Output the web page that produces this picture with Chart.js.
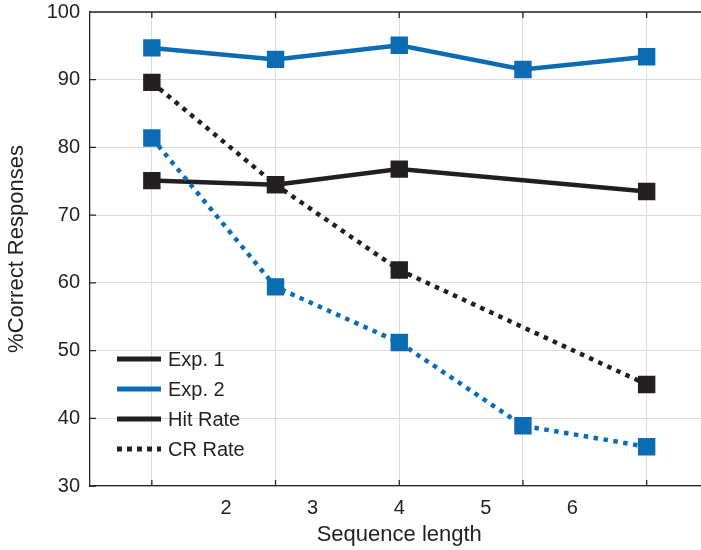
<!DOCTYPE html>
<html>
<head>
<meta charset="utf-8">
<script src="https://cdn.jsdelivr.net/npm/chart.js@4/dist/chart.umd.min.js"></script>
<style>
    html, body { margin: 0; padding: 0; background: #fff; overflow: hidden; }
    #chart { display: block; }
</style>
</head>
<body>
<canvas id="chart" width="712" height="550"></canvas>
<script>
// Data (x = position of each sequence-length group)
const xPositions = [1, 2, 3, 4, 5];
const xTickLabels = [2, 3, 4, 5, 6];
const exp1Hit = [75.1, 74.5, 76.8, null, 73.5];
const exp2Hit = [94.7, 93.0, 95.1, 91.5, 93.4];
const exp1CR = [89.6, 74.5, 61.9, null, 45.0];
const exp2CR = [81.4, 59.4, 51.2, 38.9, 35.8];

const legendItems = [
    { text: 'Exp. 1', color: '#231f20', dotted: false },
    { text: 'Exp. 2', color: '#0b6cb4', dotted: false },
    { text: 'Hit Rate', color: '#231f20', dotted: false },
    { text: 'CR Rate', color: '#231f20', dotted: true }
];

const BLACK = '#231f20';
const BLUE = '#0b6cb4';
const AXIS = '#262626';
const GRID = '#dcdcdc';
const FONT = "'Liberation Sans', Arial, sans-serif";

function series(values, color, dotted, order, label) {
    return {
        label: label,
        data: xPositions.map((x, i) => ({ x: x, y: values[i] })),
        borderColor: color,
        backgroundColor: color,
        borderWidth: 4.5,
        borderDash: dotted ? [4.5, 5.5] : [],
        borderCapStyle: 'butt',
        pointStyle: 'rect',
        pointRadius: 12.3,
        pointHoverRadius: 12.3,
        pointBackgroundColor: color,
        pointBorderWidth: 0,
        spanGaps: true,
        tension: 0,
        order: order
    };
}

// Axes box: top border plus inward tick marks, like the original figure
const axesBox = {
    id: 'axesBox',
    beforeDatasetsDraw(chart) {
        const { ctx, chartArea: a, scales } = chart;
        ctx.save();
        ctx.strokeStyle = AXIS;
        ctx.lineWidth = 1.3;
        ctx.beginPath();
        ctx.moveTo(a.left, a.top);
        ctx.lineTo(a.right, a.top);
        xPositions.forEach(v => {
            const px = scales.x.getPixelForValue(v);
            ctx.moveTo(px, a.bottom);
            ctx.lineTo(px, a.bottom - 6);
            ctx.moveTo(px, a.top);
            ctx.lineTo(px, a.top + 6);
        });
        scales.y.ticks.forEach(t => {
            const py = scales.y.getPixelForValue(t.value);
            ctx.moveTo(a.left, py);
            ctx.lineTo(a.left + 6, py);
        });
        ctx.stroke();
        ctx.restore();
    }
};

// Legend sits inside the axes, lower left
const insideLegend = {
    id: 'insideLegend',
    afterDraw(chart) {
        const { ctx } = chart;
        ctx.save();
        legendItems.forEach((item, i) => {
            const y = 359 + i * 30;
            ctx.strokeStyle = item.color;
            ctx.lineWidth = 5;
            ctx.lineCap = 'butt';
            ctx.setLineDash(item.dotted ? [5, 5] : []);
            ctx.beginPath();
            ctx.moveTo(117, y);
            ctx.lineTo(161, y);
            ctx.stroke();
            ctx.setLineDash([]);
            ctx.fillStyle = BLACK;
            ctx.font = '20px ' + FONT;
            ctx.textBaseline = 'middle';
            ctx.textAlign = 'left';
            ctx.fillText(item.text, 168, y + 1);
        });
        ctx.restore();
    }
};

new Chart(document.getElementById('chart'), {
    type: 'line',
    data: {
        datasets: [
            series(exp1Hit, BLACK, false, 3, 'Exp. 1 Hit'),
            series(exp2Hit, BLUE, false, 2, 'Exp. 2 Hit'),
            series(exp1CR, BLACK, true, 1, 'Exp. 1 CR'),
            series(exp2CR, BLUE, true, 0, 'Exp. 2 CR')
        ]
    },
    options: {
        responsive: false,
        animation: false,
        devicePixelRatio: 1,
        layout: { autoPadding: false, padding: { top: 12, left: 0, right: 3.5, bottom: 0 } },
        plugins: {
            legend: { display: false },
            tooltip: { enabled: false }
        },
        scales: {
            x: {
                type: 'linear',
                position: 'bottom',
                min: 0.5,
                max: 5.5,
                weight: 0,
                afterBuildTicks: axis => { axis.ticks = xPositions.map(v => ({ value: v })); },
                afterFit: axis => {
                    axis.height = 0;
                    axis.paddingLeft = 0;
                    axis.paddingRight = 0;
                },
                ticks: { display: false },
                grid: { color: GRID, lineWidth: 1, drawTicks: false },
                border: { display: true, color: AXIS, width: 1.3 }
            },
            x2: {
                type: 'linear',
                position: 'bottom',
                min: 4 - 25 / 7,
                max: 4 + 25 / 7,
                weight: 1,
                afterBuildTicks: axis => { axis.ticks = xTickLabels.map(v => ({ value: v })); },
                afterFit: axis => {
                    axis.height = 64;
                    axis.paddingLeft = 0;
                    axis.paddingRight = 0;
                },
                grid: { display: false, drawTicks: false },
                border: { display: false },
                ticks: {
                    padding: 10,
                    color: BLACK,
                    font: { family: FONT, size: 20 },
                    maxRotation: 0,
                    autoSkip: false
                },
                title: {
                    display: true,
                    text: 'Sequence length',
                    color: BLACK,
                    font: { family: FONT, size: 22 },
                    padding: { top: 0, bottom: 2 }
                }
            },
            y: {
                min: 30,
                max: 100,
                afterFit: axis => {
                    axis.width = 90;
                    axis.paddingTop = 0;
                    axis.paddingBottom = 0;
                },
                ticks: {
                    stepSize: 10,
                    padding: 10,
                    color: BLACK,
                    font: { family: FONT, size: 20 }
                },
                grid: { color: GRID, lineWidth: 1, drawTicks: false },
                border: { display: true, color: AXIS, width: 1.3 },
                title: {
                    display: true,
                    text: '%Correct Responses',
                    color: BLACK,
                    font: { family: FONT, size: 22 },
                    padding: { top: 3.5, bottom: 0 }
                }
            }
        }
    },
    plugins: [axesBox, insideLegend]
});
</script>
</body>
</html>
